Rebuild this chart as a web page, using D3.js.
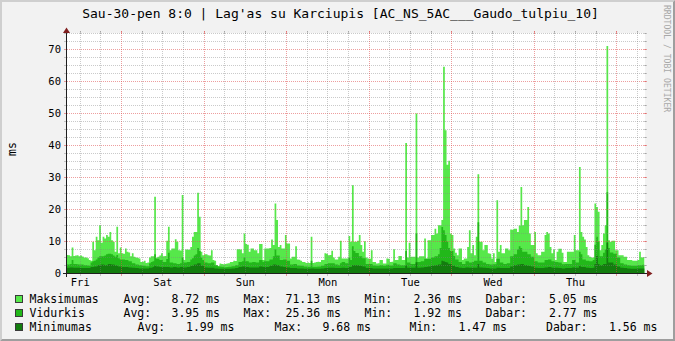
<!DOCTYPE html>
<html><head><meta charset="utf-8">
<script src="https://cdn.jsdelivr.net/npm/d3@7"></script>
<style>html,body{margin:0;padding:0;background:#f2f2f2;}svg{display:block;}</style>
</head><body>
<svg id="c" width="675" height="341"></svg>
<script>
const title = "Sau-30-pen 8:0 | Lag'as su Karciupis [AC_NS_5AC___Gaudo_tulpiu_10]";
const unitLabel = "ms";
const watermark = "RRDTOOL / TOBI OETIKER";
const dayLabels = ["Fri","Sat","Sun","Mon","Tue","Wed","Thu"];
const yTicks = [0,10,20,30,40,50,60,70];
const seriesNames = ["Maksimumas","Vidurkis","Minimumas"];
const seriesColors = ["#56e84a","#22b81a","#137d0e"];
// half-hour values over 7 days (336 steps)
const maxValues = [
 5.8,5.7,5.4,8.1,5.5,5.6,5.7,5.4,5.6,5.3,
 5.0,5.0,4.8,4.2,4.0,9.9,7.3,11.5,10.4,15.1,
 9.6,11.5,10.9,12.0,11.5,13.0,10.4,9.9,6.8,14.6,
 6.3,8.1,6.3,6.2,7.8,6.8,6.6,5.4,6.3,5.2,
 5.0,4.9,4.7,3.6,3.7,4.0,3.3,3.4,5.0,5.4,
 5.4,24.0,5.0,5.2,5.6,6.3,5.4,5.5,10.2,14.6,
 7.3,7.8,7.8,10.7,9.9,7.3,7.2,24.5,4.2,7.5,
 7.5,7.4,8.3,11.5,13.0,13.0,25.2,17.7,6.8,5.7,
 6.0,6.0,5.7,5.6,7.3,4.2,4.0,2.6,2.36,3.1,
 3.0,2.9,3.0,3.1,3.2,3.6,3.6,4.0,3.9,7.6,
 7.6,7.5,6.3,12.5,9.2,9.0,6.8,7.8,7.8,7.3,
 7.3,6.3,9.2,9.2,4.2,7.8,7.8,7.8,8.0,10.6,
 8.9,21.9,16.7,8.3,8.9,7.8,7.8,12.0,9.4,9.4,
 4.7,5.2,5.2,8.5,4.4,4.3,4.0,3.6,3.6,3.3,
 3.4,3.3,11.5,3.3,3.4,3.6,3.7,3.6,4.2,4.2,
 6.3,6.2,5.7,5.8,7.1,5.0,4.4,4.4,5.2,10.2,
 4.7,4.7,4.7,4.7,11.7,9.9,27.6,9.9,9.9,10.2,
 12.0,8.9,6.8,10.1,5.0,4.7,4.6,7.3,3.6,3.6,
 3.1,3.2,4.2,4.2,3.1,3.1,4.7,4.6,3.6,3.7,
 7.6,4.2,4.2,5.5,5.5,4.2,4.2,40.8,5.0,9.6,
 5.2,5.2,5.2,50.0,5.0,5.4,5.4,5.4,10.9,4.7,
 10.4,10.4,12.0,12.0,14.0,12.5,15.1,15.1,16.7,64.6,
 44.8,34.0,35.2,12.5,12.0,7.8,6.5,5.7,7.8,7.8,
 4.2,4.7,4.7,8.3,13.5,6.3,8.9,5.7,11.5,31.0,
 9.9,9.9,7.3,8.9,8.9,6.3,6.2,4.7,6.3,3.6,
 22.9,6.8,8.9,6.3,6.3,7.8,7.8,7.3,13.75,13.7,
 14.0,14.0,13.0,15.0,27.0,15.1,16.7,16.7,20.8,12.5,
 8.9,8.9,13.0,6.3,5.7,5.7,6.8,6.8,12.0,13.0,
 12.5,8.3,6.3,7.5,4.2,6.8,7.7,7.7,6.5,3.6,
 3.6,6.8,6.8,6.8,6.8,12.0,7.3,7.3,33.3,13.0,
 11.5,10.6,8.3,5.7,5.2,5.0,5.0,21.9,20.8,19.3,
 7.3,8.9,12.5,15.1,71.13,10.4,9.9,10.2,10.2,7.3,
 7.3,5.7,5.7,5.7,5.2,5.2,4.2,4.2,4.2,4.0,
 4.0,4.0,4.2,6.8,5.0,5.05
];
const avgValues = [
 2.8,2.8, 3.0,4.2, 3.0,3.0, 2.9,2.8, 2.8,2.8, 2.6,2.6, 2.5,2.4, 3.4,3.8, 4.0,4.4, 5.0,5.4, 5.4,5.4, 5.6,6.0,
 6.2,6.2, 6.0,5.6, 5.2,5.8, 4.8,4.4, 4.4,4.4, 4.2,4.2, 3.8,3.8, 3.2,3.2, 2.8,2.8, 2.6,2.6, 2.4,2.4, 2.3,2.3,
 3.2,3.6, 3.8,6.0, 4.6,4.6, 4.2,4.2, 3.6,3.6, 4.5,6.5, 3.4,3.4, 3.2,3.2, 3.0,3.0, 3.2,5.0, 3.4,3.4, 3.6,3.6,
 4.4,4.8, 5.6,6.0, 8.0,7.0, 5.0,4.2, 3.4,3.4, 3.2,3.2, 3.4,3.4, 2.6,2.6, 2.2,2.2, 2.1,2.1, 1.92,2.0, 2.1,2.1,
 2.3,2.3, 2.6,2.6, 3.6,3.6, 3.8,5.0, 3.8,3.8, 3.4,3.4, 3.6,3.6, 3.4,3.4, 4.2,4.2, 3.6,4.0, 3.8,3.8, 4.4,4.4,
 5.4,7.6, 5.6,5.6, 4.2,4.2, 4.4,4.4, 4.0,4.0, 2.8,2.8, 3.0,3.0, 2.5,2.5, 2.4,2.4, 2.2,2.2, 2.1,2.1, 4.0,2.1,
 2.1,2.1, 2.2,2.2, 2.4,2.4, 3.0,3.0, 3.2,3.2, 3.2,3.2, 2.8,2.8, 2.6,3.2, 3.6,3.6, 3.2,3.2, 5.0,4.2, 8.5,7.0,
 6.4,6.4, 5.4,5.4, 4.8,4.8, 3.0,3.0, 3.0,3.0, 2.5,2.5, 2.4,2.4, 2.6,2.6, 2.4,2.4, 2.7,2.7, 2.5,2.5, 3.2,3.2,
 2.8,2.8, 2.6,2.6, 2.6,7.0, 3.4,3.4, 3.0,3.0, 3.0,12.5, 3.6,3.6, 3.8,3.8, 4.6,4.6, 4.6,4.6, 5.0,5.0, 5.4,5.4,
 6.0,8.0, 14.5,13.5, 12.0,10.0, 8.0,7.0, 7.0,5.5, 4.4,4.4, 3.6,3.6, 3.0,3.0, 3.8,3.8, 3.4,3.4, 3.6,4.0, 4.0,16.0,
 4.0,4.0, 3.4,3.4, 3.0,3.0, 2.8,2.8, 2.9,2.9, 4.6,4.6, 3.4,3.4, 3.0,3.0, 3.2,3.2, 5.4,5.4, 6.0,6.0, 7.5,8.5,
 8.0,6.8, 6.8,6.8, 6.0,6.0, 5.2,5.2, 3.8,3.8, 3.4,3.4, 3.4,3.4, 4.2,4.2, 4.4,4.4, 3.8,3.8, 3.6,3.6, 3.4,3.4,
 2.9,2.9, 3.0,3.0, 3.0,3.0, 4.2,4.2, 3.4,3.4, 6.8,6.0, 4.4,4.4, 4.0,4.0, 3.8,3.8, 4.2,9.0, 11.5,10.0, 5.4,5.4,
 6.5,7.5, 25.36,8.0, 6.6,6.6, 6.2,6.2, 5.0,5.0, 3.2,3.2, 2.8,2.8, 2.6,2.6, 2.4,2.4, 2.4,2.4, 2.6,2.6, 2.6,2.77
];
const minValues = [
 1.8,1.8, 1.9,1.9, 1.8,1.8, 1.8,1.8, 1.7,1.7, 1.7,1.7, 1.7,1.7, 2.0,2.0, 2.2,2.2, 2.6,2.6, 2.8,2.8, 2.6,2.6,
 3.0,3.0, 2.8,2.8, 2.5,2.5, 2.2,2.2, 2.0,2.0, 2.0,2.0, 1.9,1.9, 1.8,1.8, 1.7,1.7, 1.6,1.6, 1.6,1.6, 1.6,1.6,
 1.8,1.8, 2.0,2.4, 2.2,2.2, 2.0,2.0, 2.0,2.0, 2.0,2.0, 1.9,1.9, 2.0,2.0, 1.9,1.9, 2.0,2.0, 1.9,1.9, 2.0,2.0,
 2.4,2.4, 2.8,2.8, 3.2,3.2, 2.4,2.4, 1.9,1.9, 1.8,1.8, 1.8,1.8, 1.6,1.6, 1.47,1.5, 1.5,1.5, 1.5,1.5, 1.5,1.5,
 1.6,1.6, 1.7,1.7, 2.0,2.0, 2.2,2.2, 2.0,2.0, 1.9,1.9, 1.9,1.9, 1.9,1.9, 2.2,2.2, 2.0,2.0, 2.0,2.0, 2.4,2.4,
 2.8,2.8, 2.6,2.6, 2.2,2.2, 2.0,2.0, 1.9,1.9, 1.7,1.7, 1.7,1.7, 1.6,1.6, 1.6,1.6, 1.5,1.5, 1.5,1.5, 1.6,1.6,
 1.5,1.5, 1.5,1.5, 1.6,1.6, 1.7,1.7, 1.8,1.8, 1.8,1.8, 1.7,1.7, 1.7,1.7, 1.8,1.8, 1.7,1.7, 2.0,2.0, 2.6,2.6,
 2.6,2.6, 2.4,2.4, 2.2,2.2, 1.7,1.7, 1.7,1.7, 1.6,1.6, 1.6,1.6, 1.6,1.6, 1.6,1.6, 1.6,1.6, 1.6,1.6, 1.7,1.7,
 1.7,1.7, 1.7,1.7, 1.7,2.5, 1.8,1.8, 1.8,1.8, 1.8,3.5, 1.8,1.8, 1.9,1.9, 2.0,2.0, 2.2,2.2, 2.4,2.4, 2.6,2.6,
 2.8,2.8, 4.0,3.8, 3.6,3.4, 3.0,3.0, 2.4,2.4, 2.0,2.0, 1.8,1.8, 1.7,1.7, 1.9,1.9, 1.8,1.8, 1.8,1.8, 1.8,3.0,
 1.9,1.9, 1.8,1.8, 1.7,1.7, 1.6,1.6, 1.6,1.6, 1.8,1.8, 1.7,1.7, 1.7,1.7, 1.7,1.7, 2.2,2.2, 2.6,2.6, 2.8,2.8,
 3.0,3.0, 2.6,2.6, 2.4,2.4, 2.2,2.2, 1.8,1.8, 1.7,1.7, 1.7,1.7, 1.9,1.9, 2.0,2.0, 1.8,1.8, 1.8,1.8, 1.7,1.7,
 1.6,1.6, 1.7,1.7, 1.7,1.7, 1.9,1.9, 1.8,1.8, 2.4,2.0, 2.0,2.0, 1.8,1.8, 1.7,1.7, 1.8,3.0, 5.5,3.0, 2.6,2.6,
 3.0,3.0, 9.68,3.4, 3.4,3.4, 2.8,2.8, 2.2,2.2, 1.8,1.8, 1.7,1.7, 1.6,1.6, 1.5,1.5, 1.5,1.5, 1.6,1.6, 1.6,1.56
];
const statLabels = ["Avg:","Max:","Min:","Dabar:"];
const statMax = ["8.72 ms","71.13 ms","2.36 ms","5.05 ms"];
const statAvg = ["3.95 ms","25.36 ms","1.92 ms","2.77 ms"];
const statMin = ["1.99 ms","9.68 ms","1.47 ms","1.56 ms"];

const W = 675, H = 341;
const STEPS = 336, PER_HOUR = 2;
const svg = d3.select("#c");
const FONT = "'DejaVu Sans Mono', monospace";
const x = d3.scaleLinear().domain([0, STEPS]).range([66.5, 644.3]);
const y = d3.scaleLinear().domain([0, 75]).range([273.5, 33.5]);
const px = v => Math.floor(v) + 0.5;

// background & frame shading
svg.append("rect").attr("width", W).attr("height", H).attr("fill", "#f2f2f2");
svg.append("path").attr("d", `M0,0H${W}L${W-2},2H2V${H-2}L0,${H}Z`).attr("fill", "#cfcfcf");
svg.append("path").attr("d", `M${W},0V${H}H0L2,${H-2}H${W-2}V2Z`).attr("fill", "#9e9e9e");
// canvas
svg.append("rect").attr("x", 67).attr("y", 33).attr("width", 578).attr("height", 241).attr("fill", "#ffffff");

// areas
function steps(vals) { const p = []; vals.forEach((v, i) => { p.push([i, v]); p.push([i + 1, v]); }); return p; }
const area = d3.area().x(d => x(d[0])).y0(y(0)).y1(d => y(d[1]));
[maxValues, avgValues, minValues].forEach((vals, k) => {
  svg.append("path").attr("d", area(steps(vals))).attr("fill", seriesColors[k]);
});

// grid
const g = svg.append("g");
const minorCol = "rgba(128,128,128,0.42)", majorCol = "rgba(222,79,79,0.55)";
d3.range(2.5, 75.01, 2.5).forEach(v => {
  const major = Math.abs(v % 10) < 1e-6;
  const yy = px(y(v));
  const col = major ? majorCol : minorCol;
  g.append("line").attr("x1", 67).attr("x2", 647).attr("y1", yy).attr("y2", yy)
    .attr("stroke", col).attr("stroke-dasharray", "1,1");
  g.append("line").attr("x1", 64).attr("x2", 67).attr("y1", yy).attr("y2", yy).attr("stroke", col);
  g.append("line").attr("x1", 644).attr("x2", 647).attr("y1", yy).attr("y2", yy).attr("stroke", col);
});
const vMinor = d3.range(4, 168, 6).filter(h => (h - 16) % 24 !== 0);
const vMajor = d3.range(16, 168, 24);
[[vMinor, minorCol], [vMajor, majorCol]].forEach(([hs, col]) => {
  hs.forEach(h => {
    const xx = px(x(h * PER_HOUR));
    g.append("line").attr("x1", xx).attr("x2", xx).attr("y1", 31).attr("y2", 274)
      .attr("stroke", col).attr("stroke-dasharray", "1,1");
    g.append("line").attr("x1", xx).attr("x2", xx).attr("y1", 273).attr("y2", 276).attr("stroke", col);
    g.append("line").attr("x1", xx).attr("x2", xx).attr("y1", 31).attr("y2", 34).attr("stroke", col);
  });
});

// axes
svg.append("line").attr("x1", 63).attr("x2", 648).attr("y1", 273.5).attr("y2", 273.5).attr("stroke", "#1f1f1f");
svg.append("line").attr("x1", 66.5).attr("x2", 66.5).attr("y1", 277).attr("y2", 30).attr("stroke", "#1f1f1f");
svg.append("path").attr("d", "M647,270L652.5,273.5L647,277Z").attr("fill", "#801f1f");
svg.append("path").attr("d", "M63,33L66.5,27.5L70,33Z").attr("fill", "#801f1f");

// y tick labels
svg.selectAll("text.yt").data(yTicks).enter().append("text")
  .attr("x", 61).attr("y", d => y(d) + 3.8).attr("text-anchor", "end")
  .attr("font-family", FONT).attr("font-size", "10.5px").attr("fill", "#000").text(d => d);
// x labels
svg.selectAll("text.xt").data(dayLabels).enter().append("text")
  .attr("x", (d, i) => x((4 + 24 * i) * PER_HOUR)).attr("y", 285.5).attr("text-anchor", "middle")
  .attr("font-family", FONT).attr("font-size", "10.5px").attr("fill", "#000").text(d => d);

// title
svg.append("text").attr("x", 340.5).attr("y", 18).attr("text-anchor", "middle")
  .attr("font-family", FONT).attr("font-size", "13px").attr("fill", "#000").text(title);
// unit label
svg.append("text").attr("transform", "translate(11.5,149) rotate(-90)").attr("text-anchor", "middle")
  .attr("dominant-baseline", "central").attr("font-family", FONT).attr("font-size", "11.5px").text(unitLabel);
// watermark
svg.append("text").attr("transform", "translate(666.5,5) rotate(90)").attr("text-anchor", "start")
  .attr("dominant-baseline", "central").attr("font-family", FONT).attr("font-size", "8.1px")
  .attr("fill", "#a8a8a8").text(watermark);

// legend
const rowsStats = [statMax, statAvg, statMin];
const colsA = [30, 124, 172, 244, 286, 365, 414, 486, 549.5];
const colsB = [30, 138, 186.5, 275, 323, 410, 459, 546.5, 609.5];
seriesNames.forEach((name, r) => {
  const base = 303 + 14 * r;
  svg.append("rect").attr("x", 15.5).attr("y", base - 7.5).attr("width", 7).attr("height", 7)
    .attr("fill", seriesColors[r]).attr("stroke", "#3a3a3a");
  const cols = r === 2 ? colsB : colsA;
  const items = [name];
  statLabels.forEach((l, j) => { items.push(l); items.push(rowsStats[r][j]); });
  items.forEach((t, j) => {
    svg.append("text").attr("x", cols[j] - 0.5).attr("y", base).attr("font-family", FONT)
      .attr("font-size", "11.5px").attr("fill", "#000").text(t);
  });
});
</script>
</body></html>
